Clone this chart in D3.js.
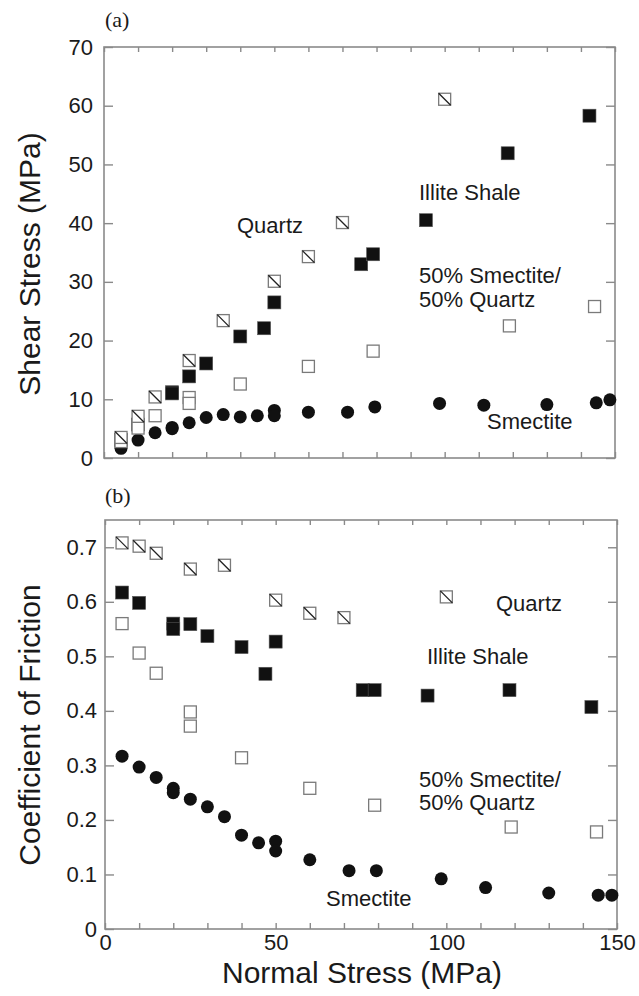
<!DOCTYPE html>
<html>
<head>
<meta charset="utf-8">
<script src="https://cdn.jsdelivr.net/npm/d3@7"></script>
<style>
  body { margin: 0; background: #fff; }
  svg text { font-family: "Liberation Sans", Arial, Helvetica, sans-serif; fill: #1a1a1a; }
  .panel-tag { font-family: "Liberation Serif", "Times New Roman", serif !important; }
</style>
</head>
<body>
<div id="chart"></div>
<script>
// ---- data ----
// Quartz
var sigmaQuartz = [5, 10, 15, 25, 35, 50, 60, 70, 100]
var tauQuartz = [3.5, 7.1, 10.4, 16.6, 23.4, 30.1, 34.3, 40.1, 61.1]
var muQuartz = [0.708, 0.702, 0.689, 0.66, 0.667, 0.603, 0.579, 0.571, 0.609]

// Illite shale
var sigmaIllite = [5, 10, 20, 20, 25, 30, 40, 47, 50, 75.5, 79, 94.5, 118.5, 142.5]
var tauIllite = [3.1, 5.7, 11.2, 11.0, 13.9, 16.1, 20.7, 22.1, 26.5, 33.0, 34.7, 40.5, 51.9, 58.3]
var muIllite = [0.617, 0.598, 0.56, 0.55, 0.559, 0.537, 0.517, 0.468, 0.527, 0.438, 0.438, 0.428, 0.438, 0.407]

// 50% smectite / 50% quartz
var sigmaMix = [5, 10, 15, 25, 25, 40, 60, 79, 119, 144]
var tauMix = [2.8, 5.1, 7.2, 10.3, 9.3, 12.6, 15.6, 18.2, 22.5, 25.8]
var muMix = [0.56, 0.506, 0.469, 0.398, 0.372, 0.314, 0.258, 0.227, 0.187, 0.178]

// Smectite
var sigmaSmec = [5, 10, 15, 20, 20, 25, 30, 35, 40, 45, 50, 50, 60, 71.5, 79.5, 98.5, 111.5, 130, 144.5, 148.5]
var tauSmec = [1.65, 3.05, 4.3, 5.2, 5.0, 6.0, 6.9, 7.4, 7.0, 7.2, 8.1, 7.2, 7.8, 7.8, 8.7, 9.3, 9.0, 9.1, 9.4, 9.9]
var muSmec = [0.317, 0.297, 0.278, 0.258, 0.25, 0.238, 0.224, 0.206, 0.172, 0.158, 0.161, 0.143, 0.127, 0.107, 0.107, 0.092, 0.076, 0.066, 0.062, 0.062]

var xTicks = d3.range(0, 151, 10)
var tauTicks = d3.range(0, 71, 10)
var muTicks = [0, 0.1, 0.2, 0.3, 0.4, 0.5, 0.6, 0.7]

var W = 639, H = 996
var svg = d3.select("#chart").append("svg").attr("width", W).attr("height", H)

var zip = function (xs, ys) { return xs.map(function (x, i) { return [x, ys[i]] }) }

// one panel: frame, ticks, markers
var drawPanel = function (o) {
  var x = d3.scaleLinear().domain([0, 150]).range(o.xr)
  var y = d3.scaleLinear().domain(o.yd).range(o.yr)
  var g = svg.append("g")

  var fmtY = o.fmtY
  var ax = [
    d3.axisLeft(y).tickValues(o.yTicks).tickSizeInner(-9).tickSizeOuter(0).tickPadding(o.yPad).tickFormat(fmtY),
    d3.axisRight(y).tickValues(o.yTicks).tickSizeInner(-9).tickSizeOuter(0).tickFormat(""),
    d3.axisBottom(x).tickValues(xTicks).tickSizeInner(-6).tickSizeOuter(0).tickPadding(5).tickFormat(o.fmtX),
    d3.axisTop(x).tickValues(xTicks).tickSizeInner(-5).tickSizeOuter(0).tickFormat("")
  ]
  var pos = ["translate(" + o.xr[0] + ",0)", "translate(" + o.xr[1] + ",0)",
             "translate(0," + o.yr[0] + ")", "translate(0," + o.yr[1] + ")"]
  ax.forEach(function (a, i) {
    var s = g.append("g").attr("transform", pos[i]).call(a)
    s.select(".domain").remove()
    s.selectAll(".tick line").attr("stroke", "#8a8a8a").attr("stroke-width", 1.4)
    s.selectAll(".tick text").attr("font-size", 22).attr("fill", "#1a1a1a")
  })

  g.append("rect")
      .attr("x", o.xr[0]).attr("y", o.yr[1])
      .attr("width", o.xr[1] - o.xr[0]).attr("height", o.yr[0] - o.yr[1])
      .attr("fill", "none").attr("stroke", "#8a8a8a").attr("stroke-width", 1.6)

  // smectite - filled circles
  g.selectAll("circle.smec").data(zip(sigmaSmec, o.smec)).enter()
      .append("circle")
      .attr("cx", function (d) { return x(d[0]) })
      .attr("cy", function (d) { return y(d[1]) })
      .attr("r", 6.5)
      .attr("fill", "#111")

  // illite shale - filled squares
  var s1 = 13
  g.selectAll("rect.illite").data(zip(sigmaIllite, o.illite)).enter()
      .append("rect")
      .attr("x", function (d) { return x(d[0]) - s1 / 2 })
      .attr("y", function (d) { return y(d[1]) - s1 / 2 })
      .attr("width", s1).attr("height", s1)
      .attr("fill", "#111").attr("stroke", "#555").attr("stroke-width", 0.6)

  // mix - open squares
  var s2 = 12
  g.selectAll("rect.mix").data(zip(sigmaMix, o.mix)).enter()
      .append("rect")
      .attr("x", function (d) { return x(d[0]) - s2 / 2 })
      .attr("y", function (d) { return y(d[1]) - s2 / 2 })
      .attr("width", s2).attr("height", s2)
      .attr("fill", "#fff").attr("stroke", "#7a7a7a").attr("stroke-width", 1.3)

  // quartz - hatched squares
  var q = g.selectAll("g.qtz").data(zip(sigmaQuartz, o.quartz)).enter()
      .append("g")
      .attr("transform", function (d) { return "translate(" + x(d[0]) + "," + y(d[1]) + ")" })
  q.append("rect")
      .attr("x", -s2 / 2).attr("y", -s2 / 2)
      .attr("width", s2).attr("height", s2)
      .attr("fill", "#fff").attr("stroke", "#7a7a7a").attr("stroke-width", 1.3)
  q.append("line")
      .attr("x1", -s2 / 2).attr("y1", -s2 / 2)
      .attr("x2", s2 / 2).attr("y2", s2 / 2)
      .attr("stroke", "#222").attr("stroke-width", 1.3)

  // text labels
  o.notes.forEach(function (n) {
    g.append("text").attr("x", n[1]).attr("y", n[2]).attr("font-size", 22).text(n[0])
  })
  g.append("text").attr("class", "panel-tag")
      .attr("x", 105).attr("y", o.tagY).attr("font-size", 22).text(o.tag)
  g.append("text")
      .attr("transform", "translate(40," + o.ylabY + ") rotate(-90)")
      .attr("text-anchor", "middle").attr("font-size", 30)
      .text(o.ylab)
}

drawPanel({
  xr: [104, 615], yr: [458, 47], yd: [0, 70], yTicks: tauTicks, yPad: 11,
  fmtY: d3.format("d"), fmtX: "",
  quartz: tauQuartz, illite: tauIllite, mix: tauMix, smec: tauSmec,
  notes: [["Quartz", 237, 233], ["Illite Shale", 419, 200],
          ["50% Smectite/", 419, 283], ["50% Quartz", 419, 307], ["Smectite", 487, 429]],
  tag: "(a)", tagY: 27, ylab: "Shear Stress (MPa)", ylabY: 264
})

drawPanel({
  xr: [105, 617], yr: [929, 520], yd: [0, 0.75], yTicks: muTicks, yPad: 8,
  fmtY: function (d) { return d === 0 ? "0" : d3.format(".1f")(d) },
  fmtX: function (d) { return d % 50 === 0 ? d : "" },
  quartz: muQuartz, illite: muIllite, mix: muMix, smec: muSmec,
  notes: [["Quartz", 496, 611], ["Illite Shale", 427, 664],
          ["50% Smectite/", 419, 787], ["50% Quartz", 419, 810], ["Smectite", 326, 906]],
  tag: "(b)", tagY: 503, ylab: "Coefficient of Friction", ylabY: 725
})

svg.append("text")
    .attr("x", 362).attr("y", 983)
    .attr("text-anchor", "middle").attr("font-size", 30)
    .text("Normal Stress (MPa)")
</script>
</body>
</html>
